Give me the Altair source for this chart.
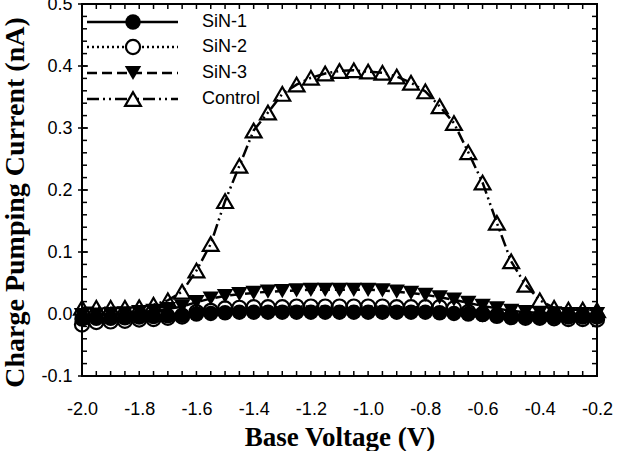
import altair as alt
import pandas as pd

# ---------------- data ----------------
voltage = [-2.00, -1.95, -1.90, -1.85, -1.80, -1.75, -1.70, -1.65, -1.60, -1.55,
           -1.50, -1.45, -1.40, -1.35, -1.30, -1.25, -1.20, -1.15, -1.10, -1.05,
           -1.00, -0.95, -0.90, -0.85, -0.80, -0.75, -0.70, -0.65, -0.60, -0.55,
           -0.50, -0.45, -0.40, -0.35, -0.30, -0.25, -0.20]

sin1 = [-0.008, -0.007, -0.007, -0.006, -0.005, -0.004, -0.003, -0.002, 0.000, 0.001,
        0.002, 0.003, 0.003, 0.003, 0.003, 0.003, 0.003, 0.003, 0.003, 0.003,
        0.003, 0.003, 0.003, 0.003, 0.003, 0.002, 0.001, 0.000, -0.001, -0.002,
        -0.003, -0.004, -0.005, -0.005, -0.005, -0.005, -0.005]

sin2 = [-0.017, -0.013, -0.012, -0.011, -0.009, -0.008, -0.006, -0.004, 0.003, 0.005,
        0.009, 0.010, 0.011, 0.011, 0.011, 0.012, 0.012, 0.012, 0.012, 0.012,
        0.012, 0.012, 0.011, 0.011, 0.011, 0.011, 0.009, 0.003, 0.000, -0.003,
        -0.005, -0.006, -0.006, -0.007, -0.008, -0.008, -0.009]

sin3 = [-0.002, -0.001, 0.000, 0.001, 0.003, 0.005, 0.008, 0.012, 0.019, 0.025,
        0.029, 0.032, 0.034, 0.036, 0.037, 0.038, 0.039, 0.039, 0.039, 0.039,
        0.039, 0.038, 0.036, 0.034, 0.031, 0.027, 0.023, 0.018, 0.013, 0.009,
        0.005, 0.003, 0.002, 0.001, 0.000, 0.000, 0.000]

control = [0.010, 0.010, 0.010, 0.010, 0.011, 0.015, 0.022, 0.036, 0.070, 0.113,
           0.182, 0.239, 0.296, 0.325, 0.355, 0.370, 0.381, 0.388, 0.392, 0.393,
           0.391, 0.389, 0.383, 0.373, 0.359, 0.335, 0.308, 0.261, 0.212, 0.147,
           0.085, 0.047, 0.022, 0.010, 0.007, 0.007, 0.006]

series_names = ["SiN-1", "SiN-2", "SiN-3", "Control"]

x_labels = [-2.0, -1.8, -1.6, -1.4, -1.2, -1.0, -0.8, -0.6, -0.4, -0.2]
y_labels = [-0.1, 0.0, 0.1, 0.2, 0.3, 0.4, 0.5]
x_minor = voltage
y_minor = [-0.10, -0.08, -0.06, -0.04, -0.02, 0.00, 0.02, 0.04, 0.06, 0.08,
           0.10, 0.12, 0.14, 0.16, 0.18, 0.20, 0.22, 0.24, 0.26, 0.28,
           0.30, 0.32, 0.34, 0.36, 0.38, 0.40, 0.42, 0.44, 0.46, 0.48, 0.50]

# ---------------- layout / style ----------------
W, H = 515, 372
SANS = "Liberation Sans"
SERIF = "Liberation Serif"
LABEL_EXPR = "replace(format(datum.value, '.1f'), '\u2212', '-')"

xs = alt.Scale(domain=[-2.0, -0.2], nice=False, zero=False)
ys = alt.Scale(domain=[-0.1, 0.5], nice=False, zero=False)

x_axis = alt.Axis(values=x_labels, labelExpr=LABEL_EXPR, grid=False, domain=False,
                  ticks=False, tickSize=0, labelPadding=24, labelFont=SANS,
                  labelFontSize=18, labelColor="black", labelFlush=False,
                  labelOverlap=False,
                  title="Base Voltage (V)", titleFont=SERIF, titleFontSize=27,
                  titleFontWeight="bold", titleColor="black",
                  titleY=69, titleBaseline="alphabetic")
y_axis = alt.Axis(values=y_labels, labelExpr=LABEL_EXPR, grid=False, domain=False,
                  ticks=False, tickSize=0, labelPadding=10, labelFont=SANS,
                  labelFontSize=18, labelColor="black", labelFlush=False,
                  labelOverlap=False,
                  title="Charge Pumping Current (nA)", titleFont=SERIF,
                  titleFontSize=28, titleFontWeight="bold", titleColor="black",
                  titleAngle=270, titleX=-59, titleY=198, titleAlign="center",
                  titleBaseline="alphabetic")

X = alt.X("V:Q", scale=xs, axis=x_axis)
Y = alt.Y("I:Q", scale=ys, axis=y_axis)

styles = {
    "SiN-1": dict(dash=None, shape="circle", filled=True, size=240),
    "SiN-2": dict(dash=[2, 3], shape="circle", filled=False, size=200),
    "SiN-3": dict(dash=[10, 5], shape="triangle-down", filled=True, size=270),
    "Control": dict(dash=[12, 4, 2, 4, 2, 4], shape="triangle-up", filled=False, size=250),
}

values = {"SiN-1": sin1, "SiN-2": sin2, "SiN-3": sin3, "Control": control}

layers = []
for name in series_names:
    st = styles[name]
    df = pd.DataFrame({"V": voltage, "I": values[name]})
    line_kw = dict(color="black", strokeWidth=2.5)
    if st["dash"]:
        line_kw["strokeDash"] = st["dash"]
    layers.append(alt.Chart(df).mark_line(**line_kw).encode(x=X, y=Y))
    if st["filled"]:
        pt = alt.Chart(df).mark_point(shape=st["shape"], filled=True, size=st["size"],
                                      color="black", opacity=1)
    else:
        pt = alt.Chart(df).mark_point(shape=st["shape"], filled=False, size=st["size"],
                                      stroke="black", strokeWidth=2.2, opacity=1)
    layers.append(pt.encode(x=X, y=Y))

# ---------------- inner ticks on all four sides ----------------
xt = pd.DataFrame({"V": x_minor})
yt = pd.DataFrame({"I": y_minor})
ytm = pd.DataFrame({"I": y_labels})
tick_kw = dict(color="black", strokeWidth=1.5)
layers.append(alt.Chart(xt).mark_rule(**tick_kw).encode(x=X, y=alt.value(H), y2=alt.value(H - 5)))
layers.append(alt.Chart(xt).mark_rule(**tick_kw).encode(x=X, y=alt.value(0), y2=alt.value(5)))
layers.append(alt.Chart(yt).mark_rule(**tick_kw).encode(y=Y, x=alt.value(0), x2=alt.value(5)))
layers.append(alt.Chart(yt).mark_rule(**tick_kw).encode(y=Y, x=alt.value(W), x2=alt.value(W - 5)))
layers.append(alt.Chart(ytm).mark_rule(**tick_kw).encode(y=Y, x=alt.value(-4), x2=alt.value(6)))

# ---------------- manual legend (top-left, inside) ----------------
row_y = [18, 43, 69, 95]
for name, ry in zip(series_names, row_y):
    st = styles[name]
    lab = pd.DataFrame({"label": [name]})
    rkw = dict(color="black", strokeWidth=2.5)
    if st["dash"]:
        rkw["strokeDash"] = st["dash"]
    layers.append(alt.Chart(lab).mark_rule(**rkw).encode(
        x=alt.value(5), x2=alt.value(96), y=alt.value(ry)))
    if st["filled"]:
        lp = alt.Chart(lab).mark_point(shape=st["shape"], filled=True, size=st["size"],
                                       color="black", opacity=1)
    else:
        lp = alt.Chart(lab).mark_point(shape=st["shape"], filled=True, size=st["size"],
                                       fill="white", stroke="black", strokeWidth=2.2, opacity=1)
    layers.append(lp.encode(x=alt.value(51), y=alt.value(ry)))
    layers.append(alt.Chart(lab).mark_text(align="left", baseline="middle", font=SANS,
                                           fontSize=18, color="black").encode(
        x=alt.value(120), y=alt.value(ry), text="label:N"))

chart = alt.layer(*layers).properties(
    width=W, height=H,
    padding={"left": 82, "top": 4, "right": 21, "bottom": 75},
    autosize=alt.AutoSizeParams(type="none"),
    background="white",
).configure_view(stroke="black", strokeWidth=2)

chart.save("out.html", embed_options={"renderer": "svg", "actions": False})
